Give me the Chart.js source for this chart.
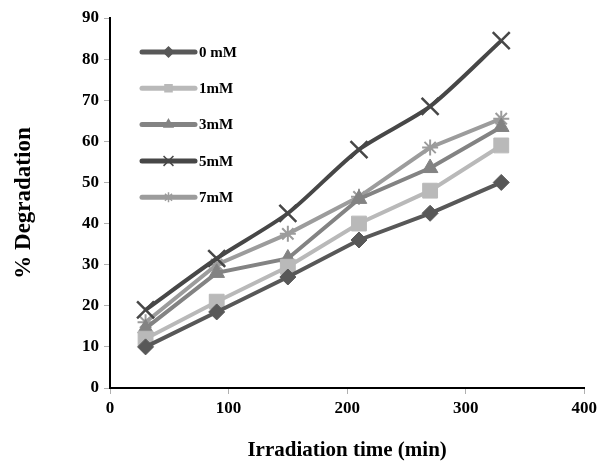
<!DOCTYPE html>
<html>
<head>
<meta charset="utf-8">
<script src="https://cdn.jsdelivr.net/npm/chart.js@4.4.1/dist/chart.umd.min.js"></script>
<style>
  html, body { margin: 0; padding: 0; background: #fff; }
  #wrap { width: 601px; height: 461px; }
</style>
</head>
<body>
<div id="wrap"><canvas id="degChart" width="601" height="461"></canvas></div>
<script>
// Data
const times = [30, 90, 150, 210, 270, 330];
const seriesNames = ["0 mM", "1mM", "3mM", "5mM", "7mM"];
const deg0 = [10, 18.5, 27, 36, 42.5, 50];
const deg1 = [12, 21, 29.5, 40, 48, 59];
const deg3 = [14.5, 28, 31.5, 46, 53.5, 63.5];
const deg5 = [19, 31.5, 42.5, 58, 68.5, 84.5];
const deg7 = [16, 30, 37.5, 46.5, 58.5, 65.5];
const xTicks = [0, 100, 200, 300, 400];
const yTicks = [0, 10, 20, 30, 40, 50, 60, 70, 80, 90];

const serif = "'Liberation Serif', 'Times New Roman', serif";

const styles = [
  { color: "#585858", point: "rectRot", r: 8, bw: 1, tension: 0 },
  { color: "#b9b9b9", point: "rect", r: 10.5, bw: 1, tension: 0 },
  { color: "#838383", point: "triangle", r: 9, bw: 1, tension: 0 },
  { color: "#474747", point: "crossRot", r: 12, bw: 2.5, tension: 0.25 },
  { color: "#9c9c9c", point: "star", r: 8, bw: 2, tension: 0 }
];

const values = [deg0, deg1, deg3, deg5, deg7];

const datasets = values.map((vals, i) => ({
  label: seriesNames[i],
  data: times.map((t, j) => ({ x: t, y: vals[j] })),
  borderColor: styles[i].color,
  backgroundColor: styles[i].color,
  borderWidth: 4,
  tension: styles[i].tension,
  pointStyle: styles[i].point,
  pointRadius: styles[i].r,
  pointBorderWidth: styles[i].bw,
  pointBackgroundColor: styles[i].color,
  pointBorderColor: styles[i].color
}));

// legend drawn inside the plot, as in the original figure
const insideLegend = {
  id: "insideLegend",
  afterDatasetsDraw(chart) {
    const { ctx, chartArea } = chart;
    const x0 = chartArea.left + 32;
    const x1 = chartArea.left + 85;
    ctx.save();
    chart.data.datasets.forEach((ds, i) => {
      const y = chartArea.top + 34 + i * 36.3;
      ctx.strokeStyle = ds.borderColor;
      ctx.lineWidth = 5;
      ctx.lineCap = "round";
      ctx.beginPath();
      ctx.moveTo(x0, y);
      ctx.lineTo(x1, y);
      ctx.stroke();
      ctx.fillStyle = ds.borderColor;
      ctx.lineWidth = 1.5;
      ctx.lineCap = "butt";
      Chart.helpers.drawPoint(ctx, {
        pointStyle: ds.pointStyle,
        radius: ds.pointStyle === "crossRot" ? 7 : 5,
        rotation: 0,
        borderWidth: 1.5
      }, (x0 + x1) / 2, y);
      ctx.fillStyle = "#000";
      ctx.font = "bold 15px " + serif;
      ctx.textBaseline = "middle";
      ctx.textAlign = "left";
      ctx.fillText(ds.label, x1 + 4, y + 1);
    });
    ctx.restore();
  }
};

const config = {
  type: "line",
  data: { datasets: datasets },
  options: {
    responsive: false,
    animation: false,
    layout: { padding: { top: 18, right: 0, left: 0, bottom: 0 } },
    plugins: {
      legend: { display: false },
      tooltip: { enabled: false }
    },
    scales: {
      x: {
        type: "linear",
        min: 0,
        max: 400,
        afterBuildTicks: (s) => { s.ticks = xTicks.map(v => ({ value: v })); },
        afterFit: (s) => { s.height = 73; },
        grid: { drawOnChartArea: false, drawTicks: true, tickLength: 6, color: "#b0b0b0" },
        border: { display: true, color: "#000", width: 2 },
        ticks: { color: "#000", padding: 4, font: { family: serif, size: 17, weight: "bold" } },
        title: {
          display: true,
          text: "Irradiation time (min)",
          color: "#000",
          padding: { top: 0, bottom: 0 },
          font: { family: serif, size: 21, weight: "bold", lineHeight: 1 }
        }
      },
      y: {
        min: 0,
        max: 90,
        afterBuildTicks: (s) => { s.ticks = yTicks.map(v => ({ value: v })); },
        afterFit: (s) => { s.width = 110; },
        grid: { drawOnChartArea: false, drawTicks: true, tickLength: 6, color: "#b0b0b0" },
        border: { display: true, color: "#000", width: 2 },
        ticks: { color: "#000", padding: 5, font: { family: serif, size: 17, weight: "bold" } },
        title: {
          display: true,
          text: "% Degradation",
          color: "#000",
          padding: { top: 13, bottom: 0 },
          font: { family: serif, size: 23, weight: "bold", lineHeight: 1 }
        }
      }
    }
  },
  plugins: [insideLegend]
};

window.addEventListener("DOMContentLoaded", () => {
  new Chart(document.getElementById("degChart"), config);
});
</script>
</body>
</html>
